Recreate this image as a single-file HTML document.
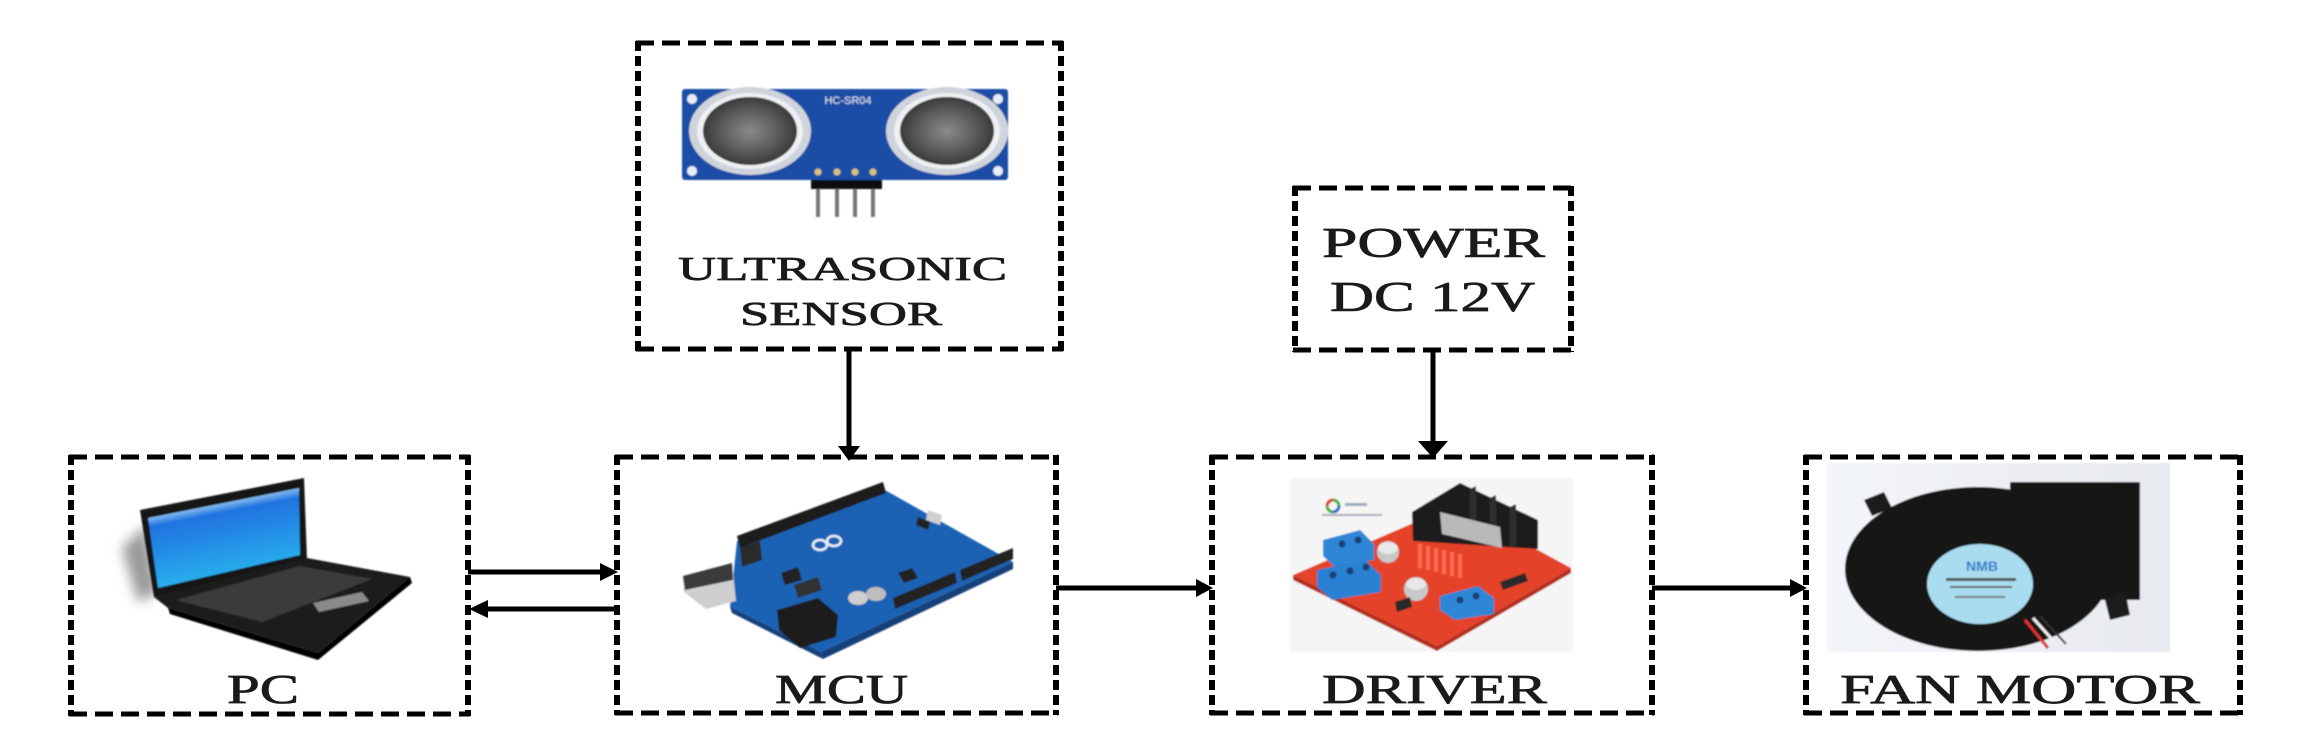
<!DOCTYPE html>
<html>
<head>
<meta charset="utf-8">
<style>
  html,body{margin:0;padding:0;background:#fff;}
  body{width:2309px;height:755px;overflow:hidden;}
  svg{display:block;}
  .lbl{font-family:"Liberation Serif","DejaVu Serif",serif;fill:#1a1a1a;stroke:#1a1a1a;stroke-width:0.7;}
</style>
</head>
<body>
<svg width="2309" height="755" viewBox="0 0 2309 755" xmlns="http://www.w3.org/2000/svg">
  <defs>
    <linearGradient id="scr" x1="0" y1="0" x2="0.3" y2="1">
      <stop offset="0" stop-color="#2f6fd6"/>
      <stop offset="0.28" stop-color="#7fb6ee"/>
      <stop offset="0.36" stop-color="#1f73e0"/>
      <stop offset="1" stop-color="#2ab4ee"/>
    </linearGradient>
    <radialGradient id="trans" cx="0.5" cy="0.5" r="0.5">
      <stop offset="0" stop-color="#8a8a8a"/>
      <stop offset="0.6" stop-color="#5c5c5c"/>
      <stop offset="1" stop-color="#3a3a3a"/>
    </radialGradient>
    <linearGradient id="fanbg" x1="0" y1="0" x2="1" y2="0">
      <stop offset="0" stop-color="#f3f5f9"/>
      <stop offset="1" stop-color="#e6e9ef"/>
    </linearGradient>
    <filter id="soft" x="-10%" y="-10%" width="120%" height="120%">
      <feGaussianBlur stdDeviation="0.9"/>
    </filter>
    <filter id="shadow" x="-50%" y="-50%" width="200%" height="200%">
      <feGaussianBlur stdDeviation="6"/>
    </filter>
  </defs>

  <!-- ================= DASHED BOXES ================= -->
  <g stroke="#000" fill="none">
    <g>
      <line x1="636" y1="43" x2="1063" y2="43" stroke-width="5" stroke-dasharray="18 8"/>
      <line x1="636" y1="349" x2="1063" y2="349" stroke-width="5" stroke-dasharray="18 8"/>
      <line x1="638" y1="41" x2="638" y2="351" stroke-width="6" stroke-dasharray="10 5"/>
      <line x1="1061" y1="41" x2="1061" y2="351" stroke-width="6" stroke-dasharray="10 5"/>
    </g>
    <g>
      <line x1="1293" y1="188" x2="1573" y2="188" stroke-width="5" stroke-dasharray="18 8"/>
      <line x1="1293" y1="350" x2="1573" y2="350" stroke-width="5" stroke-dasharray="18 8"/>
      <line x1="1295" y1="186" x2="1295" y2="352" stroke-width="6" stroke-dasharray="10 5"/>
      <line x1="1571" y1="186" x2="1571" y2="352" stroke-width="6" stroke-dasharray="10 5"/>
    </g>
    <g>
      <line x1="69" y1="457" x2="470" y2="457" stroke-width="5" stroke-dasharray="18 8"/>
      <line x1="69" y1="714" x2="470" y2="714" stroke-width="5" stroke-dasharray="18 8"/>
      <line x1="71" y1="455" x2="71" y2="716" stroke-width="6" stroke-dasharray="10 5"/>
      <line x1="468" y1="455" x2="468" y2="716" stroke-width="6" stroke-dasharray="10 5"/>
    </g>
    <g>
      <line x1="615" y1="457" x2="1058" y2="457" stroke-width="5" stroke-dasharray="18 8"/>
      <line x1="615" y1="713" x2="1058" y2="713" stroke-width="5" stroke-dasharray="18 8"/>
      <line x1="617" y1="455" x2="617" y2="715" stroke-width="6" stroke-dasharray="10 5"/>
      <line x1="1056" y1="455" x2="1056" y2="715" stroke-width="6" stroke-dasharray="10 5"/>
    </g>
    <g>
      <line x1="1210" y1="457" x2="1654" y2="457" stroke-width="5" stroke-dasharray="18 8"/>
      <line x1="1210" y1="713" x2="1654" y2="713" stroke-width="5" stroke-dasharray="18 8"/>
      <line x1="1212" y1="455" x2="1212" y2="715" stroke-width="6" stroke-dasharray="10 5"/>
      <line x1="1652" y1="455" x2="1652" y2="715" stroke-width="6" stroke-dasharray="10 5"/>
    </g>
    <g>
      <line x1="1804" y1="457" x2="2242" y2="457" stroke-width="5" stroke-dasharray="18 8"/>
      <line x1="1804" y1="713" x2="2242" y2="713" stroke-width="5" stroke-dasharray="18 8"/>
      <line x1="1806" y1="455" x2="1806" y2="715" stroke-width="6" stroke-dasharray="10 5"/>
      <line x1="2240" y1="455" x2="2240" y2="715" stroke-width="6" stroke-dasharray="10 5"/>
    </g>
  </g>

  <!-- ================= CONNECTORS ================= -->
  <g stroke="#000" stroke-width="5" fill="none">
    <line x1="849" y1="349" x2="849" y2="448"/>
    <line x1="1433" y1="350" x2="1433" y2="444"/>
    <line x1="468" y1="572" x2="603" y2="572"/>
    <line x1="617" y1="609" x2="484" y2="609"/>
    <line x1="1056" y1="588" x2="1198" y2="588"/>
    <line x1="1652" y1="588" x2="1792" y2="588"/>
  </g>
  <g fill="#000">
    <polygon points="838,446 860,446 849,461"/>
    <polygon points="1418,441 1448,441 1433,458"/>
    <polygon points="600,563 600,581 618,572"/>
    <polygon points="488,600 488,618 469,609"/>
    <polygon points="1196,579 1196,597 1213,588"/>
    <polygon points="1790,579 1790,597 1807,588"/>
  </g>

  <!-- ================= ULTRASONIC SENSOR IMAGE ================= -->
  <g filter="url(#soft)">
    <rect x="682" y="89" width="326" height="91" rx="3" fill="#1d4ea6"/>
    <circle cx="692" cy="99" r="5" fill="#e8eef8"/>
    <circle cx="998" cy="99" r="5" fill="#e8eef8"/>
    <circle cx="692" cy="171" r="5" fill="#e8eef8"/>
    <circle cx="998" cy="171" r="5" fill="#e8eef8"/>
    <ellipse cx="750" cy="131" rx="61" ry="44" fill="#cfd4dc"/>
    <ellipse cx="750" cy="131" rx="53" ry="38" fill="#eef0f3"/>
    <ellipse cx="750" cy="131" rx="47" ry="34" fill="url(#trans)"/>
    <ellipse cx="947" cy="131" rx="61" ry="44" fill="#cfd4dc"/>
    <ellipse cx="947" cy="131" rx="53" ry="38" fill="#eef0f3"/>
    <ellipse cx="947" cy="131" rx="47" ry="34" fill="url(#trans)"/>
    <text x="848" y="104" font-family="Liberation Sans, sans-serif" font-size="11" fill="#dfe6f5" text-anchor="middle">HC-SR04</text>
    <g fill="#d9c27a">
      <circle cx="818" cy="172" r="3.5"/><circle cx="837" cy="172" r="3.5"/>
      <circle cx="855" cy="172" r="3.5"/><circle cx="873" cy="172" r="3.5"/>
    </g>
    <rect x="811" y="180" width="71" height="9" fill="#111"/>
    <g fill="#777">
      <rect x="816" y="189" width="4" height="28"/><rect x="835" y="189" width="4" height="28"/>
      <rect x="853" y="189" width="4" height="28"/><rect x="871" y="189" width="4" height="28"/>
    </g>
  </g>

  <!-- ================= LAPTOP ================= -->
  <g>
    <polygon points="122,548 146,525 158,592 138,602" fill="#9a9a9a" filter="url(#shadow)"/>
    <g filter="url(#soft)">
      <polygon points="140,510 304,478 307,560 154,597" fill="#121212"/>
      <polygon points="148,518 299,488 300,555 158,588" fill="url(#scr)"/>
      <polygon points="154,597 307,558 410,577 318,653 168,608" fill="#1c1c1c"/>
      <polygon points="176,600 300,566 372,579 262,622" fill="#3a3a3a"/>
      <polygon points="313,603 362,592 369,601 319,612" fill="#8a8a8a"/>
      <polygon points="168,608 318,653 410,577 412,583 318,660 170,614" fill="#050505"/>
    </g>
  </g>

  <!-- ================= ARDUINO ================= -->
  <g filter="url(#soft)">
    <polygon points="737,541 883,489 1013,562 821,652 730,607" fill="#1f62b4"/>
    <polygon points="821,652 1013,562 1013,569 823,659" fill="#123f7a"/>
    <polygon points="730,607 821,652 823,659 732,613" fill="#123f7a"/>
    <polygon points="737,536 883,482 886,493 740,548" fill="#1a1a1a"/>
    <polygon points="740,548 760,541 762,560 742,567" fill="#2a2a2a"/>
    <polygon points="893,598 955,572 957,583 895,609" fill="#222"/>
    <polygon points="960,570 1013,548 1013,559 962,581" fill="#222"/>
    <polygon points="683,576 732,563 736,601 706,609 684,592" fill="#cfcfcf"/>
    <polygon points="683,576 732,563 733,580 685,590" fill="#3a3a3a"/>
    <polygon points="777,610 818,598 838,615 836,637 800,648 779,630" fill="#1c1c1c"/>
    <polygon points="898,573 912,568 918,578 904,583" fill="#222"/>
    <polygon points="781,573 798,567 802,580 785,585" fill="#222"/>
    <polygon points="794,585 818,577 822,590 798,598" fill="#333"/>
    <ellipse cx="858" cy="598" rx="10" ry="7" fill="#cfcfcf"/>
    <ellipse cx="876" cy="594" rx="10" ry="7" fill="#bdbdbd"/>
    <ellipse cx="820" cy="545" rx="7" ry="5" fill="none" stroke="#e6eef8" stroke-width="2.5"/>
    <ellipse cx="834" cy="541" rx="7" ry="5" fill="none" stroke="#e6eef8" stroke-width="2.5"/>
    <polygon points="928,510 942,515 940,525 926,520" fill="#cfcfcf"/>
    <polygon points="918,517 930,522 928,530 916,525" fill="#222"/>
  </g>

  <!-- ================= DRIVER BOARD ================= -->
  <g filter="url(#soft)">
    <rect x="1290" y="478" width="283" height="174" fill="#f5f5f5"/>
    <polygon points="1293,575 1455,505 1571,568 1437,646" fill="#e5432b"/>
    <polygon points="1293,575 1437,646 1437,651 1293,580" fill="#b52d1a"/>
    <polygon points="1437,646 1571,568 1571,573 1437,651" fill="#b52d1a"/>
    <polygon points="1412,512 1460,483 1538,520 1538,549 1413,541" fill="#1b1b1b"/>
    <g fill="#2d2d2d">
      <polygon points="1470,489 1476,486 1476,530 1470,533"/>
      <polygon points="1490,498 1496,495 1496,538 1490,541"/>
      <polygon points="1510,507 1516,504 1516,545 1510,548"/>
    </g>
    <polygon points="1440,512 1500,527 1502,548 1442,534" fill="#b9b9b9"/>
    <g fill="#ff6a50">
      <rect x="1418" y="544" width="4" height="24"/><rect x="1426" y="546" width="4" height="24"/>
      <rect x="1434" y="548" width="4" height="24"/><rect x="1442" y="550" width="4" height="24"/>
      <rect x="1450" y="552" width="4" height="24"/><rect x="1458" y="554" width="4" height="24"/>
    </g>
    <polygon points="1323,540 1360,530 1374,544 1374,560 1336,568 1323,556" fill="#2d86d6"/>
    <polygon points="1317,570 1365,560 1381,575 1381,592 1332,600 1317,587" fill="#2b80d2"/>
    <polygon points="1440,596 1478,586 1494,598 1494,614 1455,620 1440,610" fill="#2d86d6"/>
    <g fill="#1a3f70">
      <circle cx="1342" cy="544" r="3.5"/><circle cx="1358" cy="540" r="3.5"/>
      <circle cx="1333" cy="575" r="3.5"/><circle cx="1350" cy="571" r="3.5"/><circle cx="1366" cy="567" r="3.5"/>
      <circle cx="1460" cy="600" r="3.5"/><circle cx="1476" cy="596" r="3.5"/>
    </g>
    <ellipse cx="1388" cy="552" rx="11" ry="11" fill="#c8c8c8"/>
    <ellipse cx="1388" cy="548" rx="10" ry="6" fill="#e8e8e8"/>
    <ellipse cx="1416" cy="589" rx="12" ry="12" fill="#c8c8c8"/>
    <ellipse cx="1416" cy="584" rx="10" ry="6" fill="#e8e8e8"/>
    <polygon points="1500,582 1525,573 1528,581 1503,590" fill="#2a2a2a"/>
    <polygon points="1395,602 1410,597 1412,607 1397,612" fill="#2a2a2a"/>
    <circle cx="1333" cy="506" r="6" fill="none" stroke="#3cae3c" stroke-width="3"/>
    <path d="M1327,506 a6,6 0 0,1 6,-6" fill="none" stroke="#e33" stroke-width="3"/>
    <path d="M1339,506 a6,6 0 0,1 -6,6" fill="none" stroke="#2a6fd6" stroke-width="3"/>
    <rect x="1345" y="503" width="22" height="3" fill="#9ab"/>
    <rect x="1322" y="514" width="60" height="2" fill="#aab"/>
  </g>

  <!-- ================= FAN ================= -->
  <g filter="url(#soft)">
    <rect x="1827" y="463" width="343" height="189" fill="url(#fanbg)"/>
    <rect x="2010" y="482" width="130" height="118" fill="#141414"/>
    <ellipse cx="1978" cy="569" rx="133" ry="82" fill="#141414"/>
    <polygon points="1864,500 1884,492 1892,508 1872,516" fill="#1a1a1a"/>
    <polygon points="2105,600 2125,590 2130,615 2110,620" fill="#1a1a1a"/>
    <ellipse cx="1980" cy="584" rx="53" ry="40" fill="#a9dcef"/>
    <text x="1982" y="571" font-family="Liberation Sans, sans-serif" font-size="14" font-weight="bold" fill="#2a7ac8" text-anchor="middle">NMB</text>
    <rect x="1946" y="578" width="70" height="3" fill="#555"/>
    <rect x="1950" y="586" width="62" height="2" fill="#666"/>
    <rect x="1955" y="596" width="50" height="2" fill="#777"/>
    <line x1="2025" y1="620" x2="2048" y2="648" stroke="#d33" stroke-width="3"/>
    <line x1="2033" y1="618" x2="2058" y2="646" stroke="#eee" stroke-width="3"/>
    <line x1="2040" y1="616" x2="2066" y2="644" stroke="#333" stroke-width="2"/>
  </g>

  <!-- ================= LABELS ================= -->
  <text class="lbl" x="678" y="280" font-size="34" textLength="329" lengthAdjust="spacingAndGlyphs">ULTRASONIC</text>
  <text class="lbl" x="740" y="325" font-size="34" textLength="202" lengthAdjust="spacingAndGlyphs">SENSOR</text>
  <text class="lbl" x="1322" y="257" font-size="42" textLength="223" lengthAdjust="spacingAndGlyphs">POWER</text>
  <text class="lbl" x="1330" y="311" font-size="42" textLength="205" lengthAdjust="spacingAndGlyphs">DC 12V</text>
  <text class="lbl" x="227" y="703" font-size="41" textLength="72" lengthAdjust="spacingAndGlyphs">PC</text>
  <text class="lbl" x="775" y="703" font-size="41" textLength="133" lengthAdjust="spacingAndGlyphs">MCU</text>
  <text class="lbl" x="1322" y="703" font-size="41" textLength="225" lengthAdjust="spacingAndGlyphs">DRIVER</text>
  <text class="lbl" x="1840" y="703" font-size="41" textLength="360" lengthAdjust="spacingAndGlyphs">FAN MOTOR</text>
</svg>
</body>
</html>
